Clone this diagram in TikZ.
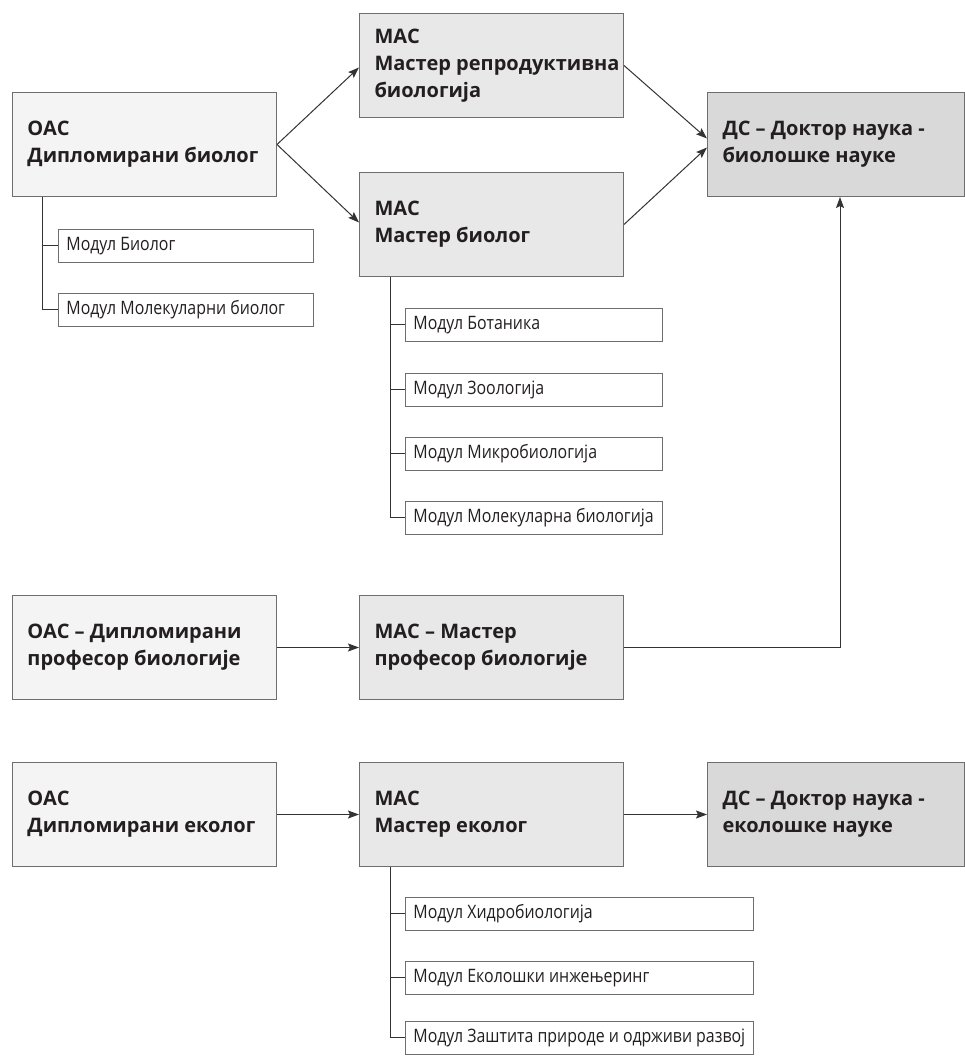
\documentclass[tikz,border=0pt]{standalone}
\usepackage{fontspec}
\setmainfont{Open Sans}
\newfontfamily\condfont[FakeStretch=0.86]{Open Sans}
\usetikzlibrary{arrows.meta,calc}
\definecolor{oacfill}{HTML}{F4F4F4}
\definecolor{macfill}{HTML}{E8E8E8}
\definecolor{dsfill}{HTML}{D9D9D9}
\definecolor{bordergray}{HTML}{6E6E6E}
\definecolor{linegray}{HTML}{333333}
\definecolor{txt}{HTML}{231F20}
\begin{document}
\begin{tikzpicture}[x=1pt,y=-1pt,
  bigbox/.style={draw=bordergray, line width=1pt, text=txt, anchor=north west,
    font=\bfseries\fontsize{20}{27}\selectfont, align=left, inner xsep=0pt, inner ysep=0pt,
    text width=264pt, minimum width=264pt, minimum height=104pt,
    execute at begin node={\spaceskip=0pt\xspaceskip=0pt\leftskip=15pt\relax}},
  oac/.style={bigbox, fill=oacfill},
  mac/.style={bigbox, fill=macfill},
  ds/.style={bigbox, fill=dsfill, text width=257pt, minimum width=257pt},
  modbox/.style={draw=bordergray, line width=0.8pt, fill=white, text=txt, anchor=north west,
    font=\condfont\fontsize{18.5}{22}\selectfont, align=left, inner xsep=8pt, inner ysep=0pt,
    text width=#1, minimum width=#1+16pt, minimum height=33pt,
    execute at begin node={\spaceskip=0pt\xspaceskip=0pt\relax}},
  conn/.style={draw=linegray, line width=1pt},
  arr/.style={conn, -{Stealth[length=11pt,width=8pt,inset=2pt]}}
]
\useasboundingbox (0,0) rectangle (965,1056);

% row 1
\node[oac] (oac1) at (12,92) {ОАС\\Дипломирани биолог};
\node[mac] (macrep) at (359,13) {МАС\\Мастер репродуктивна\\биологија};
\node[mac] (macbio) at (359,172) {МАС\\Мастер биолог};
\node[ds] (dsbio) at (707,92) {ДС – Доктор наука -\\биолошке науке};

\node[modbox=239pt] (mb1) at (58,229) {Модул Биолог};
\node[modbox=239pt] (mb2) at (58,293) {Модул Молекуларни биолог};

\node[modbox=241pt] (mm1) at (405,308) {Модул Ботаника};
\node[modbox=241pt] (mm2) at (405,373) {Модул Зоологија};
\node[modbox=241pt] (mm3) at (405,437) {Модул Микробиологија};
\node[modbox=241pt] (mm4) at (405,501) {Модул Молекуларна биологија};

% row 2
\node[oac] (oacprof) at (12,595) {ОАС – Дипломирани\\професор биологије};
\node[mac] (macprof) at (359,595) {МАС – Мастер\\професор биологије};

% row 3
\node[oac] (oaceco) at (12,762) {ОАС\\Дипломирани еколог};
\node[mac] (maceco) at (359,762) {МАС\\Мастер еколог};
\node[ds] (dseco) at (707,762) {ДС – Доктор наука -\\еколошке науке};

\node[modbox=332pt] (me1) at (405,897) {Модул Хидробиологија};
\node[modbox=332pt] (me2) at (405,961) {Модул Еколошки инжењеринг};
\node[modbox=332pt] (me3) at (405,1021) {Модул Заштита природе и одрживи развој};

% arrows
\draw[arr] (oac1.east) -- ($(macrep.west)+(0,2)$);
\draw[arr] (oac1.east) -- ($(macbio.west)+(0,-2)$);
\draw[arr] (macrep.east) -- ($(dsbio.west)+(0,-6)$);
\draw[arr] (macbio.east) -- ($(dsbio.west)+(0,3)$);
\draw[arr] (oacprof.east) -- (macprof.west);
\draw[arr] (macprof.east) -| ($(dsbio.south)+(4,0)$);
\draw[arr] (oaceco.east) -- (maceco.west);
\draw[arr] (maceco.east) -- (dseco.west);

% module connectors
\draw[conn] ($(oac1.south west)+(30,0)$) |- (mb1.west);
\draw[conn] ($(oac1.south west)+(30,0)$) |- (mb2.west);
\draw[conn] ($(macbio.south west)+(31,0)$) |- (mm1.west);
\draw[conn] ($(macbio.south west)+(31,0)$) |- (mm2.west);
\draw[conn] ($(macbio.south west)+(31,0)$) |- (mm3.west);
\draw[conn] ($(macbio.south west)+(31,0)$) |- (mm4.west);
\draw[conn] ($(maceco.south west)+(31,0)$) |- (me1.west);
\draw[conn] ($(maceco.south west)+(31,0)$) |- (me2.west);
\draw[conn] ($(maceco.south west)+(31,0)$) |- (me3.west);
\end{tikzpicture}
\end{document}
